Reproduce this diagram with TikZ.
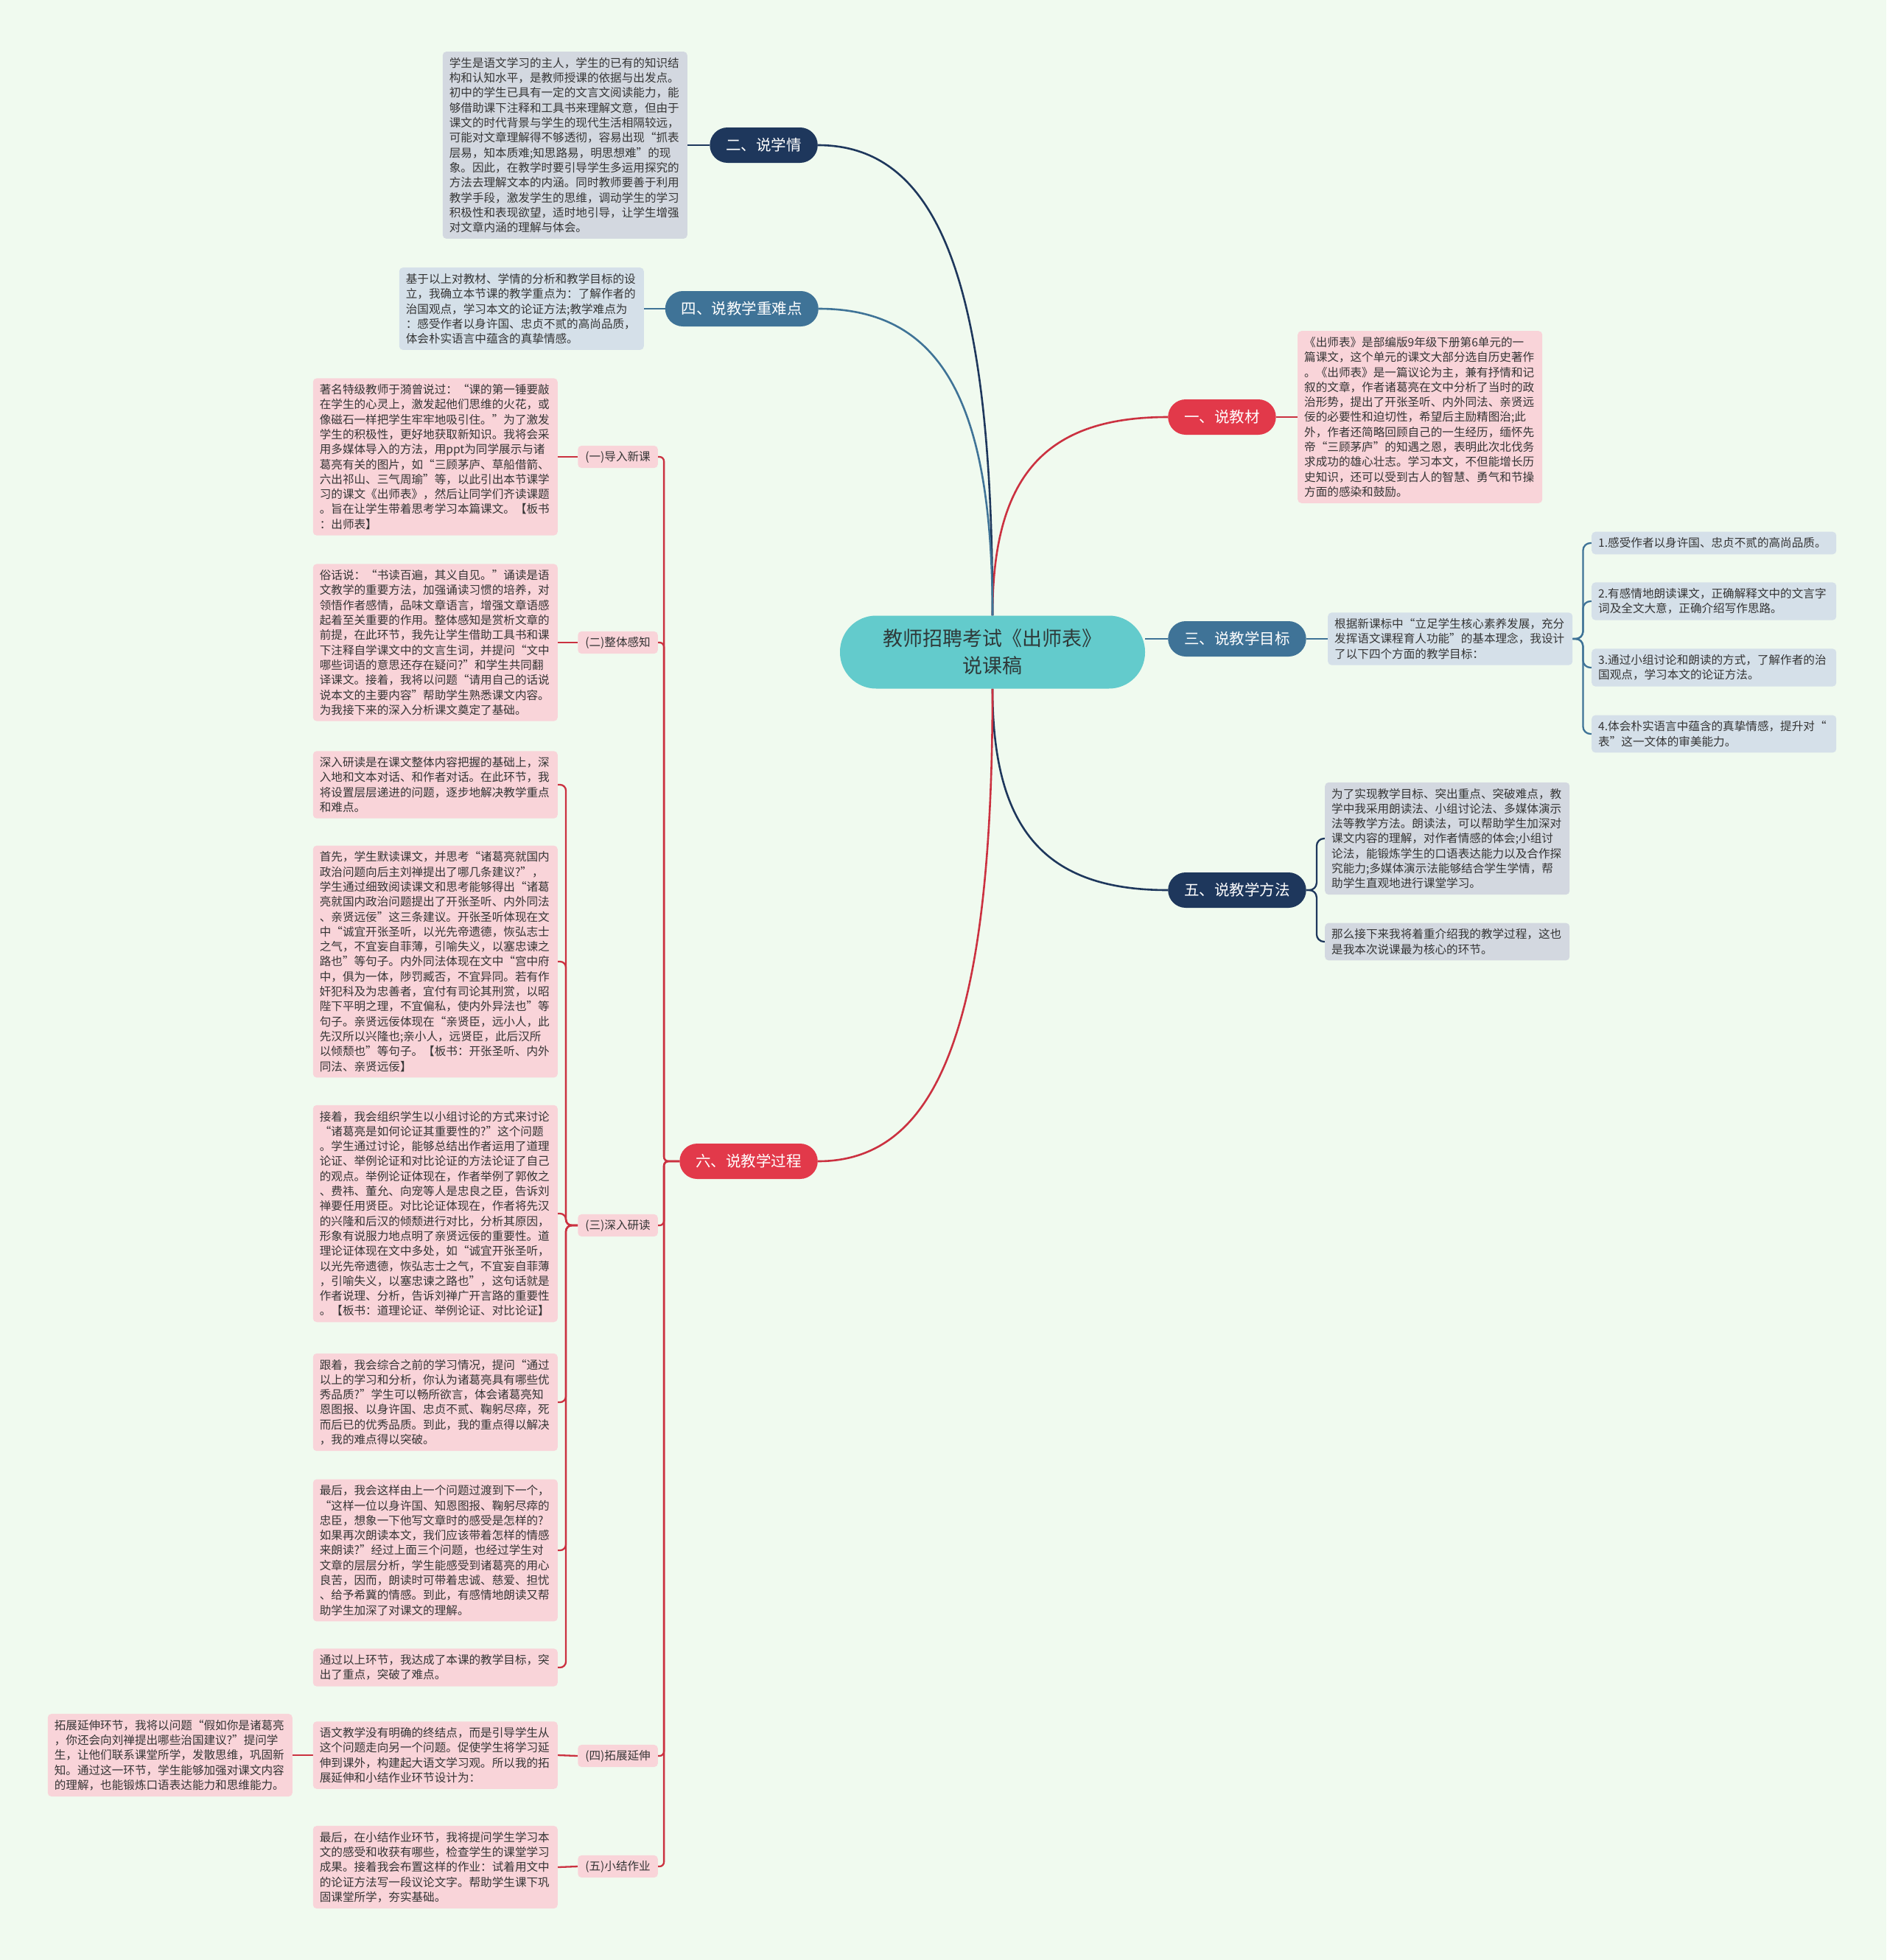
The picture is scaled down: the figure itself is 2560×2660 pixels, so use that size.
\documentclass[tikz,border=0pt]{standalone}
\usepackage{fontspec}
\setmainfont{Noto Sans CJK SC}
\usetikzlibrary{calc}
\pgfdeclarelayer{bglayer}
\pgfdeclarelayer{paper}
\pgfsetlayers{paper,bglayer,main}
\definecolor{bgc}{HTML}{F0FAEF}
\definecolor{ctl}{HTML}{63CBCC}
\definecolor{nvy}{HTML}{1E375C}
\definecolor{stl}{HTML}{3F7397}
\definecolor{rdn}{HTML}{E2394A}
\definecolor{rdl}{HTML}{CB3140}
\definecolor{pkl}{HTML}{F9D4D9}
\definecolor{gyl}{HTML}{D3D8E0}
\definecolor{bul}{HTML}{D5E0E9}
\definecolor{txt}{HTML}{353535}
\definecolor{ctx}{HTML}{2F3A3A}
\newcommand\lfont{\fontsize{15.6}{20.3}\selectfont}
\newcommand\bfont{\fontsize{20.5}{24}\selectfont}
\newcommand\cfont{\fontsize{27}{37}\selectfont}
\tikzset{
  centerbox/.style={fill=ctl, rounded corners=49pt, minimum width=414pt, minimum height=99pt, align=center, font=\cfont, text=ctx, inner sep=0pt},
  branch/.style={rounded corners=24pt, minimum height=48pt, inner xsep=22pt, inner ysep=0pt, font=\bfont, text=white},
  leafbox/.style={rounded corners=5pt, text width=314pt, align=left, inner xsep=9pt, inner ysep=8pt, font=\lfont, text=txt},
  leafR/.style={leafbox, fill=pkl},
  leafN/.style={leafbox, fill=gyl},
  leafS/.style={leafbox, fill=bul},
  lab/.style={fill=pkl, rounded corners=5pt, inner xsep=10pt, inner ysep=7pt, font=\lfont, text=txt},
  lnR/.style={draw=rdl, line width=2.3pt},
  lnN/.style={draw=nvy, line width=2.3pt},
  lnS/.style={draw=stl, line width=2.3pt}
}
\begin{document}
\begin{tikzpicture}[x=1pt,y=-1pt]
\begin{pgfonlayer}{paper}
\fill[bgc] (0,0) rectangle (2560,2660);
\end{pgfonlayer}
\useasboundingbox (0,0) rectangle (2560,2660);

% central node
\node[centerbox] (c) at (1347,885) {教师招聘考试《出师表》\\说课稿};

% main branches
\node[branch, fill=rdn, anchor=west] (b1) at (1585,566) {一、说教材};
\node[branch, fill=nvy, anchor=east] (b2) at (1110,197) {二、说学情};
\node[branch, fill=stl, anchor=west] (b3) at (1585,867) {三、说教学目标};
\node[branch, fill=stl, anchor=east] (b4) at (1111,419) {四、说教学重难点};
\node[branch, fill=nvy, anchor=west] (b5) at (1585,1208) {五、说教学方法};
\node[branch, fill=rdn, anchor=east] (b6) at (1110,1576) {六、说教学过程};

% 一
\node[leafR, anchor=west] (l1) at (1761,566) {《出师表》是部编版9年级下册第6单元的一\\篇课文，这个单元的课文大部分选自历史著作\\。《出师表》是一篇议论为主，兼有抒情和记\\叙的文章，作者诸葛亮在文中分析了当时的政\\治形势，提出了开张圣听、内外同法、亲贤远\\佞的必要性和迫切性，希望后主励精图治;此\\外，作者还简略回顾自己的一生经历，缅怀先\\帝“三顾茅庐”的知遇之恩，表明此次北伐务\\求成功的雄心壮志。学习本文，不但能增长历\\史知识，还可以受到古人的智慧、勇气和节操\\方面的感染和鼓励。};

% 二
\node[leafN, anchor=east] (l2) at (933,197) {学生是语文学习的主人，学生的已有的知识结\\构和认知水平，是教师授课的依据与出发点。\\初中的学生已具有一定的文言文阅读能力，能\\够借助课下注释和工具书来理解文意，但由于\\课文的时代背景与学生的现代生活相隔较远，\\可能对文章理解得不够透彻，容易出现“抓表\\层易，知本质难;知思路易，明思想难”的现\\象。因此，在教学时要引导学生多运用探究的\\方法去理解文本的内涵。同时教师要善于利用\\教学手段，激发学生的思维，调动学生的学习\\积极性和表现欲望，适时地引导，让学生增强\\对文章内涵的理解与体会。};

% 四
\node[leafS, anchor=east] (l4) at (874,419) {基于以上对教材、学情的分析和教学目标的设\\立，我确立本节课的教学重点为：了解作者的\\治国观点，学习本文的论证方法;教学难点为\\：感受作者以身许国、忠贞不贰的高尚品质，\\体会朴实语言中蕴含的真挚情感。};

% 三
\node[leafS, anchor=west] (m3) at (1802,867) {根据新课标中“立足学生核心素养发展，充分\\发挥语文课程育人功能”的基本理念，我设计\\了以下四个方面的教学目标：};
\node[leafS, anchor=west] (s1) at (2160,737) {1.感受作者以身许国、忠贞不贰的高尚品质。};
\node[leafS, anchor=west] (s2) at (2160,816) {2.有感情地朗读课文，正确解释文中的文言字\\词及全文大意，正确介绍写作思路。};
\node[leafS, anchor=west] (s3) at (2160,906) {3.通过小组讨论和朗读的方式，了解作者的治\\国观点，学习本文的论证方法。};
\node[leafS, anchor=west] (s4) at (2160,996) {4.体会朴实语言中蕴含的真挚情感，提升对“\\表”这一文体的审美能力。};

% 五
\node[leafN, anchor=west] (f1) at (1798,1138) {为了实现教学目标、突出重点、突破难点，教\\学中我采用朗读法、小组讨论法、多媒体演示\\法等教学方法。朗读法，可以帮助学生加深对\\课文内容的理解，对作者情感的体会;小组讨\\论法，能锻炼学生的口语表达能力以及合作探\\究能力;多媒体演示法能够结合学生学情，帮\\助学生直观地进行课堂学习。};
\node[leafN, anchor=west] (f2) at (1798,1278) {那么接下来我将着重介绍我的教学过程，这也\\是我本次说课最为核心的环节。};

% 六 labels
\node[lab, anchor=east] (t1) at (893,620) {(一)导入新课};
\node[lab, anchor=east] (t2) at (893,872) {(二)整体感知};
\node[lab, anchor=east] (t3) at (893,1663) {(三)深入研读};
\node[lab, anchor=east] (t4) at (893,2383) {(四)拓展延伸};
\node[lab, anchor=east] (t5) at (893,2533) {(五)小结作业};

\node[leafR, anchor=east] (k1) at (757,620) {著名特级教师于漪曾说过：“课的第一锤要敲\\在学生的心灵上，激发起他们思维的火花，或\\像磁石一样把学生牢牢地吸引住。”为了激发\\学生的积极性，更好地获取新知识。我将会采\\用多媒体导入的方法，用ppt为同学展示与诸\\葛亮有关的图片，如“三顾茅庐、草船借箭、\\六出祁山、三气周瑜”等，以此引出本节课学\\习的课文《出师表》，然后让同学们齐读课题\\。旨在让学生带着思考学习本篇课文。【板书\\：出师表】};

\node[leafR, anchor=east] (k2) at (757,872) {俗话说：“书读百遍，其义自见。”诵读是语\\文教学的重要方法，加强诵读习惯的培养，对\\领悟作者感情，品味文章语言，增强文章语感\\起着至关重要的作用。整体感知是赏析文章的\\前提，在此环节，我先让学生借助工具书和课\\下注释自学课文中的文言生词，并提问“文中\\哪些词语的意思还存在疑问?”和学生共同翻\\译课文。接着，我将以问题“请用自己的话说\\说本文的主要内容”帮助学生熟悉课文内容。\\为我接下来的深入分析课文奠定了基础。};

\node[leafR, anchor=east] (d1) at (757,1065) {深入研读是在课文整体内容把握的基础上，深\\入地和文本对话、和作者对话。在此环节，我\\将设置层层递进的问题，逐步地解决教学重点\\和难点。};

\node[leafR, anchor=east] (d2) at (757,1305) {首先，学生默读课文，并思考“诸葛亮就国内\\政治问题向后主刘禅提出了哪几条建议?”，\\学生通过细致阅读课文和思考能够得出“诸葛\\亮就国内政治问题提出了开张圣听、内外同法\\、亲贤远佞”这三条建议。开张圣听体现在文\\中“诚宜开张圣听，以光先帝遗德，恢弘志士\\之气，不宜妄自菲薄，引喻失义，以塞忠谏之\\路也”等句子。内外同法体现在文中“宫中府\\中，俱为一体，陟罚臧否，不宜异同。若有作\\奸犯科及为忠善者，宜付有司论其刑赏，以昭\\陛下平明之理，不宜偏私，使内外异法也”等\\句子。亲贤远佞体现在“亲贤臣，远小人，此\\先汉所以兴隆也;亲小人，远贤臣，此后汉所\\以倾颓也”等句子。【板书：开张圣听、内外\\同法、亲贤远佞】};

\node[leafR, anchor=east] (d3) at (757,1647) {接着，我会组织学生以小组讨论的方式来讨论\\“诸葛亮是如何论证其重要性的?”这个问题\\。学生通过讨论，能够总结出作者运用了道理\\论证、举例论证和对比论证的方法论证了自己\\的观点。举例论证体现在，作者举例了郭攸之\\、费祎、董允、向宠等人是忠良之臣，告诉刘\\禅要任用贤臣。对比论证体现在，作者将先汉\\的兴隆和后汉的倾颓进行对比，分析其原因，\\形象有说服力地点明了亲贤远佞的重要性。道\\理论证体现在文中多处，如“诚宜开张圣听，\\以光先帝遗德，恢弘志士之气，不宜妄自菲薄\\，引喻失义，以塞忠谏之路也”，这句话就是\\作者说理、分析，告诉刘禅广开言路的重要性\\。【板书：道理论证、举例论证、对比论证】};

\node[leafR, anchor=east] (d4) at (757,1903) {跟着，我会综合之前的学习情况，提问“通过\\以上的学习和分析，你认为诸葛亮具有哪些优\\秀品质?”学生可以畅所欲言，体会诸葛亮知\\恩图报、以身许国、忠贞不贰、鞠躬尽瘁，死\\而后已的优秀品质。到此，我的重点得以解决\\，我的难点得以突破。};

\node[leafR, anchor=east] (d5) at (757,2104) {最后，我会这样由上一个问题过渡到下一个，\\“这样一位以身许国、知恩图报、鞠躬尽瘁的\\忠臣，想象一下他写文章时的感受是怎样的?\\如果再次朗读本文，我们应该带着怎样的情感\\来朗读?”经过上面三个问题，也经过学生对\\文章的层层分析，学生能感受到诸葛亮的用心\\良苦，因而，朗读时可带着忠诚、慈爱、担忧\\、给予希冀的情感。到此，有感情地朗读又帮\\助学生加深了对课文的理解。};

\node[leafR, anchor=east] (d6) at (757,2263) {通过以上环节，我达成了本课的教学目标，突\\出了重点，突破了难点。};

\node[leafR, anchor=east] (e1) at (757,2382) {语文教学没有明确的终结点，而是引导学生从\\这个问题走向另一个问题。促使学生将学习延\\伸到课外，构建起大语文学习观。所以我的拓\\展延伸和小结作业环节设计为：};
\node[leafR, anchor=east] (e0) at (397,2382) {拓展延伸环节，我将以问题“假如你是诸葛亮\\，你还会向刘禅提出哪些治国建议?”提问学\\生，让他们联系课堂所学，发散思维，巩固新\\知。通过这一环节，学生能够加强对课文内容\\的理解，也能锻炼口语表达能力和思维能力。};

\node[leafR, anchor=east] (g1) at (757,2534) {最后，在小结作业环节，我将提问学生学习本\\文的感受和收获有哪些，检查学生的课堂学习\\成果。接着我会布置这样的作业：试着用文中\\的论证方法写一段议论文字。帮助学生课下巩\\固课堂所学，夯实基础。};

% connectors
\begin{pgfonlayer}{bglayer}
\draw[lnR, line width=2.6pt] (c.north) .. controls +(0,-189) and +(-167,0) .. (b1.west);
\draw[lnN, line width=2.6pt] (c.north) .. controls +(0,-447) and +(166,0) .. (b2.east);
\draw[lnS, line width=2.6pt] (c.north) .. controls +(0,-292) and +(165,0) .. (b4.east);
\draw[lnS, line width=2.6pt] (c.east |- b3.west) -- (b3.west);
\draw[lnN, line width=2.6pt] (c.south) .. controls +(0,191) and +(-167,0) .. (b5.west);
\draw[lnR, line width=2.6pt] (c.south) .. controls +(0,449) and +(166,0) .. (b6.east);

\draw[lnR] (b1.east) -- (l1.west);
\draw[lnN] (b2.west) -- (l2.east);
\draw[lnS] (b4.west) -- (l4.east);
\draw[lnS] (b3.east) -- (m3.west);
\foreach \s in {s1,s2,s3,s4} \draw[lnS, rounded corners=10pt] (m3.east) -- ++(14,0) |- (\s.west);
\foreach \s in {f1,f2} \draw[lnN, rounded corners=10pt] (b5.east) -- ++(14,0) |- (\s.west);
\foreach \s in {t1,t2,t3,t4,t5} \draw[lnR, rounded corners=6pt] (b6.west) -- ++(-21,0) |- (\s.east);
\draw[lnR] (t1.west) -- (k1.east);
\draw[lnR] (t2.west) -- (k2.east);
\foreach \s in {d1,d2,d3,d4,d5,d6} \draw[lnR, rounded corners=8pt] (t3.west) -- ++(-16,0) |- (\s.east);
\draw[lnR] (t4.west) -- (e1.east);
\draw[lnR] (e1.west) -- (e0.east);
\draw[lnR] (t5.west) -- (g1.east);
\end{pgfonlayer}
\end{tikzpicture}
\end{document}
